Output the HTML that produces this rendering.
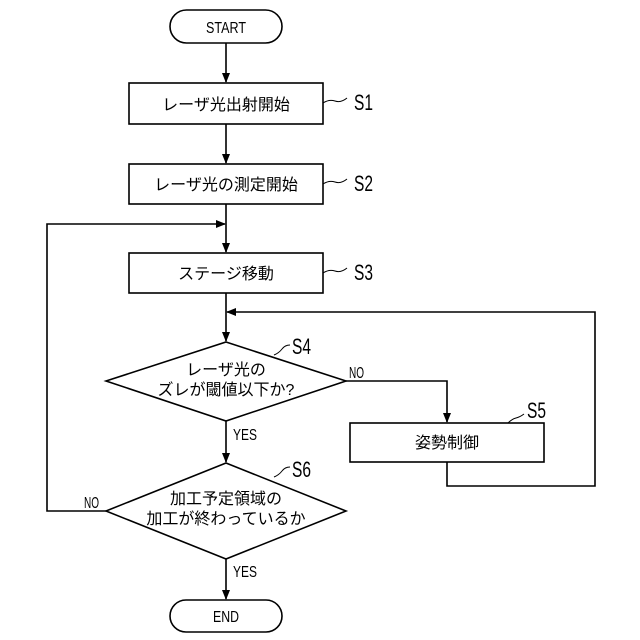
<!DOCTYPE html>
<html><head><meta charset="utf-8"><style>
html,body{margin:0;padding:0;background:#fff;}
svg{display:block;}
text{font-family:"Liberation Sans","Noto Sans CJK JP",sans-serif;fill:#000;}
.j{font-size:16px;}
.l{font-size:22px;}
.s{font-size:16px;}
</style></head><body>
<svg width="640" height="640" viewBox="0 0 640 640" xmlns="http://www.w3.org/2000/svg">
<defs><marker id="a" markerWidth="10" markerHeight="10" refX="9" refY="5" orient="auto" markerUnits="userSpaceOnUse"><path d="M0,1 L10,5 L0,9 Z" fill="#000"/></marker></defs>
<g fill="none" stroke="#000" stroke-width="1.6">
<rect x="170" y="10" width="112" height="33" rx="16.5"/>
<rect x="129" y="83" width="194" height="41"/>
<rect x="129" y="164" width="194" height="40"/>
<rect x="129" y="253" width="194" height="40"/>
<polygon points="226,342 346,381 226,421 106,381"/>
<rect x="350" y="423" width="194" height="39"/>
<polygon points="226,463 346,511 226,559 106,511"/>
<rect x="170" y="600" width="112" height="32" rx="16"/>
<line x1="226" y1="43" x2="226" y2="82" marker-end="url(#a)"/>
<line x1="226" y1="124" x2="226" y2="163" marker-end="url(#a)"/>
<line x1="226" y1="204" x2="226" y2="252" marker-end="url(#a)"/>
<polyline points="106,511 47,511 47,224 225,224" marker-end="url(#a)"/>
<line x1="226" y1="293" x2="226" y2="341" marker-end="url(#a)"/>
<polyline points="447,462 447,486 595,486 595,312 227,312" marker-end="url(#a)"/>
<polyline points="346,381 447,381 447,422" marker-end="url(#a)"/>
<line x1="226" y1="421" x2="226" y2="462" marker-end="url(#a)"/>
<line x1="226" y1="559" x2="226" y2="599" marker-end="url(#a)"/>
<path d="M323,103 q6,-4 12,-2 t12,-3" stroke-width="1"/>
<path d="M323,184 q6,-4 12,-2 t12,-3" stroke-width="1"/>
<path d="M323,273 q6,-4 12,-2 t12,-3" stroke-width="1"/>
<path d="M274,355 q5,-2 8,-6 t8,-4" stroke-width="1"/>
<path d="M508,423 q4,-4 8,-5 t8,-4" stroke-width="1"/>
<path d="M274,477 q5,-2 8,-6 t8,-4" stroke-width="1"/>
</g>
<text x="206" y="33" class="s" textLength="40" lengthAdjust="spacingAndGlyphs">START</text>
<text x="226" y="110" class="j" text-anchor="middle">レーザ光出射開始</text>
<text x="226" y="190" class="j" text-anchor="middle">レーザ光の測定開始</text>
<text x="226" y="279" class="j" text-anchor="middle">ステージ移動</text>
<text x="226" y="375" class="j" text-anchor="middle">レーザ光の</text>
<text x="226" y="395" class="j" text-anchor="middle">ズレが閾値以下か?</text>
<text x="447" y="448" class="j" text-anchor="middle">姿勢制御</text>
<text x="226" y="504" class="j" text-anchor="middle">加工予定領域の</text>
<text x="226" y="524" class="j" text-anchor="middle">加工が終わっているか</text>
<text x="213" y="622" class="s" textLength="26" lengthAdjust="spacingAndGlyphs">END</text>
<text x="354" y="110" class="l" textLength="19" lengthAdjust="spacingAndGlyphs">S1</text>
<text x="354" y="191" class="l" textLength="19" lengthAdjust="spacingAndGlyphs">S2</text>
<text x="354" y="280" class="l" textLength="19" lengthAdjust="spacingAndGlyphs">S3</text>
<text x="292" y="354" class="l" textLength="19" lengthAdjust="spacingAndGlyphs">S4</text>
<text x="527" y="418" class="l" textLength="19" lengthAdjust="spacingAndGlyphs">S5</text>
<text x="292" y="477" class="l" textLength="19" lengthAdjust="spacingAndGlyphs">S6</text>
<text x="349" y="378" class="s" textLength="15" lengthAdjust="spacingAndGlyphs">NO</text>
<text x="233" y="440" class="s" textLength="24" lengthAdjust="spacingAndGlyphs">YES</text>
<text x="233" y="577" class="s" textLength="24" lengthAdjust="spacingAndGlyphs">YES</text>
<text x="84" y="508" class="s" textLength="15" lengthAdjust="spacingAndGlyphs">NO</text>
</svg>
</body></html>
